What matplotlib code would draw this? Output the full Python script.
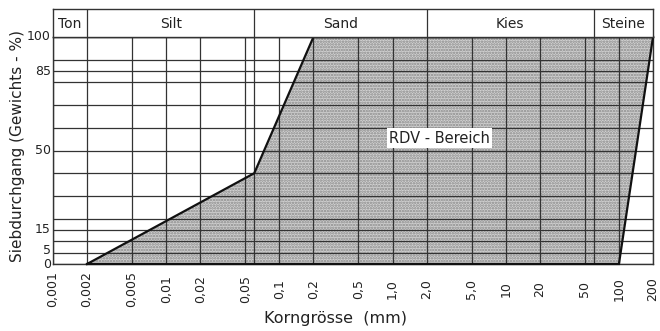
import matplotlib
matplotlib.use("Agg")
import matplotlib.pyplot as plt
from matplotlib.transforms import blended_transform_factory, offset_copy

# ---- data ----
x_ticks = [0.001, 0.002, 0.005, 0.01, 0.02, 0.05, 0.1, 0.2, 0.5, 1.0, 2.0, 5.0, 10, 20, 50, 100, 200]
x_tick_labels = ["0,001", "0,002", "0,005", "0,01", "0,02", "0,05", "0,1", "0,2", "0,5",
                 "1,0", "2,0", "5,0", "10", "20", "50", "100", "200"]
x_extra_grid = [0.06, 60]
y_grid = [0, 5, 10, 15, 20, 30, 40, 50, 60, 70, 80, 85, 90, 100]
y_ticks = [0, 5, 15, 50, 85, 100]
zone_bounds = [0.001, 0.002, 0.06, 2.0, 60, 200]
zone_names = ["Ton", "Silt", "Sand", "Kies", "Steine"]
rdv_x = [0.002, 0.06, 0.2, 200, 100]
rdv_y = [0, 40, 100, 100, 0]

plt.rcParams['font.family'] = ['DejaVu Sans']
plt.rcParams['hatch.linewidth'] = 1.2
txt = '#222222'
gridc = '#333333'

fig = plt.figure(figsize=(6.6, 3.31), dpi=100)
L, R = 53 / 660, 653 / 660
y_bot, y_top, y_head = 264, 37, 9
ax = fig.add_axes([L, 1 - y_bot / 331, R - L, (y_bot - y_top) / 331])
hx = fig.add_axes([L, 1 - y_top / 331, R - L, (y_top - y_head) / 331])

for a in (ax, hx):
    a.set_xscale('log')
    a.set_xlim(0.001, 200)
    for s in a.spines.values():
        s.set_color(gridc)
        s.set_linewidth(1.0)

ax.set_ylim(0, 100)

# fill
ax.fill(rdv_x, rdv_y, facecolor='#d2d2d2', edgecolor='#888888', hatch='......',
        linewidth=0, zorder=1)
# grid
for v in x_ticks + x_extra_grid:
    ax.axvline(v, color=gridc, lw=0.9, zorder=2)
for v in y_grid:
    ax.axhline(v, color=gridc, lw=0.9, zorder=2)
# outline
ax.plot(rdv_x + rdv_x[:1], rdv_y + rdv_y[:1], color='#111111', lw=1.6, zorder=3,
        clip_on=False, solid_joinstyle='miter')

ax.set_xticks(x_ticks)
ax.set_xticklabels(x_tick_labels, rotation=90, fontsize=9, color=txt)
ax.set_xticks([], minor=True)
for lbl in ax.get_xticklabels():
    lbl.set_va('center')
ax.tick_params(axis='x', length=0, pad=18)

# y tick labels drawn as text (the "5" nudged up a little as in the original)
ax.set_yticks([])
ytrans = blended_transform_factory(ax.transAxes, ax.transData)
for v in y_ticks:
    dy = 2.5 if v == 5 else 0
    t = offset_copy(ytrans, fig=fig, x=-2, y=dy, units='dots')
    ax.text(0, v, str(v), transform=t, ha='right', va='center', fontsize=9, color=txt)

ax.text(2.6, 55.5, "RDV - Bereich", ha='center', va='center', fontsize=10.5, color=txt,
        zorder=5, bbox=dict(facecolor='white', edgecolor='none', pad=1.5))

fig.text(336 / 660, 1 - 318 / 331, "Korngrösse  (mm)", ha='center', va='center',
         fontsize=11.5, color=txt)
ax.set_ylabel("Siebdurchgang (Gewichts - %)", fontsize=11, color=txt)
ax.yaxis.set_label_coords(-0.046, 0.52)

# header band
hx.set_ylim(0, 1)
hx.set_yticks([])
hx.set_xticks([])
hx.set_xticks([], minor=True)
for b in zone_bounds[1:-1]:
    hx.axvline(b, color=gridc, lw=0.9)
for i, name in enumerate(zone_names):
    xc = (zone_bounds[i] * zone_bounds[i + 1]) ** 0.5
    hx.text(xc, 0.47, name, ha='center', va='center', fontsize=10, color=txt)

fig.savefig("out.png", dpi=100)
